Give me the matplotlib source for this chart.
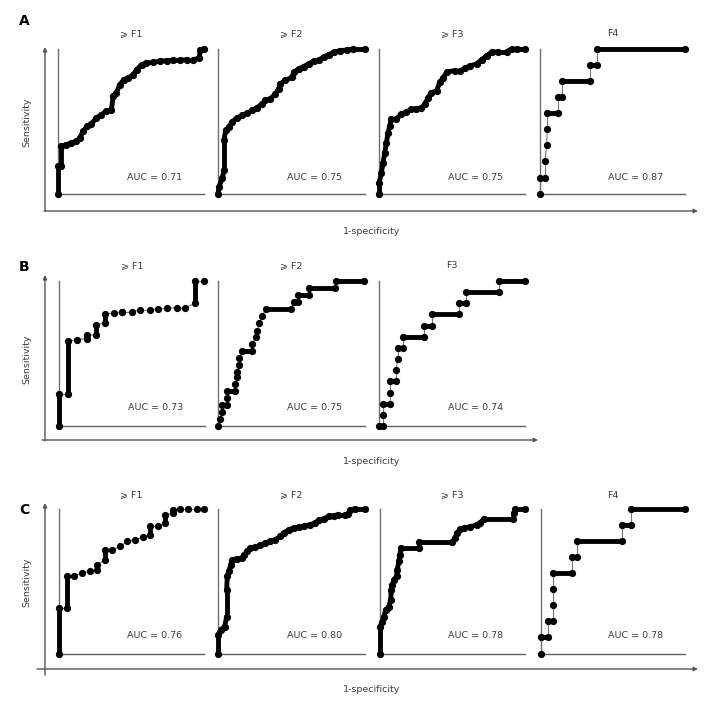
import matplotlib
matplotlib.use('Agg')
import matplotlib.pyplot as plt

# ---------------- data (fraction of panel: 1-specificity, sensitivity) ----------------
a_titles = ['⩾ F1', '⩾ F2', '⩾ F3', 'F4']
a_auc = [0.71, 0.75, 0.75, 0.87]
b_titles = ['⩾ F1', '⩾ F2', 'F3']
b_auc = [0.73, 0.75, 0.74]
c_titles = ['⩾ F1', '⩾ F2', '⩾ F3', 'F4']
c_auc = [0.76, 0.80, 0.78, 0.78]

a1_x = [0, 0, 0.023, 0.023, 0.057, 0.092, 0.126, 0.149, 0.172, 0.199, 0.229, 0.263, 0.297, 0.332, 0.366,
        0.378, 0.40, 0.423, 0.451, 0.481, 0.515, 0.538, 0.572, 0.606, 0.652, 0.698, 0.744, 0.789, 0.835,
        0.881, 0.927, 0.968, 0.973, 1.0]
a1_y = [0, 0.19, 0.19, 0.329, 0.34, 0.352, 0.363, 0.386, 0.432, 0.467, 0.485, 0.524, 0.547, 0.570, 0.582,
        0.674, 0.697, 0.754, 0.789, 0.80, 0.823, 0.857, 0.892, 0.903, 0.908, 0.915, 0.92, 0.922, 0.922,
        0.926, 0.926, 0.938, 0.995, 1.0]
a2_x = [0, 0.007, 0.029, 0.041, 0.041, 0.052, 0.074, 0.097, 0.131, 0.165, 0.199, 0.233, 0.266, 0.30, 0.323,
        0.357, 0.391, 0.413, 0.424, 0.458, 0.503, 0.515, 0.549, 0.582, 0.616, 0.65, 0.684, 0.718, 0.752,
        0.786, 0.831, 0.876, 0.921, 1.0]
a2_y = [0, 0.05, 0.108, 0.165, 0.371, 0.439, 0.462, 0.497, 0.526, 0.542, 0.558, 0.577, 0.595, 0.622, 0.645,
        0.657, 0.691, 0.725, 0.76, 0.783, 0.805, 0.84, 0.863, 0.879, 0.897, 0.915, 0.924, 0.943, 0.961,
        0.977, 0.989, 0.993, 1.0, 1.0]
a3_x = [0, 0, 0.016, 0.027, 0.039, 0.05, 0.062, 0.073, 0.085, 0.119, 0.153, 0.188, 0.222, 0.256, 0.291,
        0.313, 0.336, 0.359, 0.394, 0.416, 0.439, 0.467, 0.519, 0.554, 0.588, 0.622, 0.668, 0.703, 0.737,
        0.771, 0.817, 0.874, 0.908, 0.943, 1.0]
a3_y = [0, 0.074, 0.144, 0.213, 0.282, 0.352, 0.421, 0.468, 0.519, 0.519, 0.549, 0.565, 0.583, 0.588, 0.593,
        0.618, 0.664, 0.699, 0.711, 0.769, 0.803, 0.843, 0.85, 0.85, 0.866, 0.884, 0.896, 0.926, 0.954,
        0.977, 0.981, 0.981, 1.0, 1.0, 1.0]
a4_x = [0, 0, 0.034, 0.034, 0.046, 0.05, 0.05, 0.125, 0.125, 0.15, 0.15, 0.345, 0.345, 0.39, 0.39, 1.0]
a4_y = [0, 0.110, 0.110, 0.225, 0.336, 0.448, 0.559, 0.559, 0.667, 0.667, 0.777, 0.777, 0.892, 0.892, 1.0, 1.0]
a4_dense = 'GTGGGGTGTGTGTGT'

b1_x = [0, 0, 0.064, 0.064, 0.125, 0.189, 0.189, 0.25, 0.25, 0.312, 0.312, 0.376, 0.433, 0.433, 0.50,
        0.556, 0.62, 0.681, 0.743, 0.806, 0.863, 0.932, 0.932, 0.993]
b1_y = [0, 0.22, 0.22, 0.585, 0.596, 0.603, 0.625, 0.63, 0.698, 0.71, 0.773, 0.778, 0.783, 0.789, 0.789,
        0.80, 0.80, 0.807, 0.812, 0.816, 0.816, 0.846, 1.0, 1.0]
b1_dense = 'TGTGGTGTGTGGTGGGGGGGGTG'
b2_x = [0, 0.016, 0.027, 0.027, 0.062, 0.062, 0.062, 0.114, 0.114, 0.13, 0.13, 0.146, 0.146, 0.165, 0.233,
        0.233, 0.256, 0.268, 0.279, 0.302, 0.325, 0.497, 0.519, 0.542, 0.542, 0.622, 0.622, 0.794, 0.805, 0.993]
b2_y = [0, 0.05, 0.096, 0.146, 0.146, 0.192, 0.238, 0.238, 0.291, 0.336, 0.375, 0.421, 0.47, 0.519, 0.519,
        0.565, 0.611, 0.657, 0.709, 0.76, 0.805, 0.805, 0.856, 0.856, 0.902, 0.902, 0.95, 0.95, 1.0, 1.0]
b2_dense = 'GGGTGGTGGGGGGTGGGGGGTGTGTGTGT'
b3_x = [0, 0.03, 0.03, 0.03, 0.075, 0.075, 0.075, 0.115, 0.115, 0.13, 0.13, 0.165, 0.165, 0.31, 0.31,
        0.36, 0.36, 0.55, 0.55, 0.595, 0.595, 0.82, 0.82, 1.0]
b3_y = [0, 0, 0.076, 0.155, 0.155, 0.231, 0.307, 0.307, 0.386, 0.462, 0.538, 0.538, 0.617, 0.617, 0.693,
        0.693, 0.774, 0.774, 0.848, 0.848, 0.924, 0.924, 1.0, 1.0]
b3_dense = 'TGGTGGTGGGTGTGTGTGTGTGT'

c1_x = [0, 0, 0.057, 0.057, 0.103, 0.16, 0.213, 0.263, 0.263, 0.32, 0.32, 0.366, 0.423, 0.469, 0.526,
        0.579, 0.629, 0.629, 0.686, 0.732, 0.732, 0.785, 0.785, 0.835, 0.892, 0.95, 1.0]
c1_y = [0, 0.316, 0.316, 0.535, 0.539, 0.558, 0.569, 0.581, 0.615, 0.65, 0.719, 0.719, 0.742, 0.776, 0.788,
        0.806, 0.823, 0.88, 0.88, 0.903, 0.961, 0.972, 0.995, 1.0, 1.0, 1.0, 1.0]
c1_dense = 'TGTGGGGTGTGGGGGGTGGTGGGGGG'
c2_x = [0, 0, 0.018, 0.045, 0.059, 0.059, 0.063, 0.074, 0.086, 0.097, 0.131, 0.165, 0.176, 0.199, 0.221,
        0.255, 0.289, 0.323, 0.357, 0.391, 0.424, 0.447, 0.481, 0.515, 0.549, 0.582, 0.628, 0.661, 0.684,
        0.718, 0.752, 0.786, 0.819, 0.865, 0.887, 0.898, 0.932, 1.0]
c2_y = [0, 0.131, 0.166, 0.189, 0.258, 0.442, 0.535, 0.569, 0.615, 0.65, 0.657, 0.661, 0.684, 0.707, 0.73,
        0.737, 0.753, 0.765, 0.776, 0.788, 0.811, 0.834, 0.857, 0.869, 0.876, 0.88, 0.892, 0.903, 0.922,
        0.931, 0.949, 0.954, 0.961, 0.961, 0.968, 0.995, 1.0, 1.0]
c3_x = [0, 0, 0.016, 0.027, 0.039, 0.062, 0.073, 0.078, 0.085, 0.096, 0.114, 0.119, 0.13, 0.137, 0.146,
        0.268, 0.268, 0.497, 0.519, 0.531, 0.554, 0.577, 0.622, 0.668, 0.691, 0.714, 0.92, 0.924, 0.931, 1.0]
c3_y = [0, 0.189, 0.224, 0.258, 0.304, 0.327, 0.373, 0.442, 0.477, 0.512, 0.535, 0.581, 0.638, 0.684, 0.73,
        0.73, 0.77, 0.77, 0.80, 0.834, 0.862, 0.869, 0.876, 0.892, 0.903, 0.931, 0.931, 0.972, 1.0, 1.0]
c4_x = [0, 0, 0.046, 0.046, 0.08, 0.08, 0.08, 0.08, 0.218, 0.218, 0.253, 0.253, 0.563, 0.563, 0.625, 0.625, 1.0]
c4_y = [0, 0.115, 0.115, 0.226, 0.226, 0.337, 0.45, 0.561, 0.561, 0.67, 0.67, 0.781, 0.781, 0.891, 0.891, 1.0, 1.0]
c4_dense = 'GTGTGGGTGTGTGTGT'

# ---------------- layout (pixels) ----------------
W, H = 724, 704
rows = [
    dict(letter='A', titles=a_titles, auc=a_auc, top=49, bottom=194,
         spans=[(58, 204), (218, 365), (379, 525), (540, 685)],
         curves=[(a1_x, a1_y, None), (a2_x, a2_y, None), (a3_x, a3_y, None), (a4_x, a4_y, a4_dense)],
         vline=(45, 211, 47), hline=(44, 698, 211), letter_y=21, title_y=34, auc_y=177,
         sens_y=122, spec_y=232, spec_x=372),
    dict(letter='B', titles=b_titles, auc=b_auc, top=281, bottom=426,
         spans=[(59, 205), (218, 365), (379, 525)],
         curves=[(b1_x, b1_y, b1_dense), (b2_x, b2_y, b2_dense), (b3_x, b3_y, b3_dense)],
         vline=(45, 441, 275), hline=(42, 538, 440), letter_y=267, title_y=266, auc_y=408,
         sens_y=359, spec_y=461, spec_x=372),
    dict(letter='C', titles=c_titles, auc=c_auc, top=509, bottom=654,
         spans=[(59, 204), (218, 365), (380, 525), (541, 685)],
         curves=[(c1_x, c1_y, c1_dense), (c2_x, c2_y, None), (c3_x, c3_y, None), (c4_x, c4_y, c4_dense)],
         vline=(45, 675, 503), hline=(37, 698, 669), letter_y=510, title_y=495, auc_y=636,
         sens_y=582, spec_y=689, spec_x=372),
]

TXT = '#3a3a3a'
FS = 6.8
fig = plt.figure(figsize=(W / 100, H / 100), dpi=100)
over = fig.add_axes([0, 0, 1, 1])
over.set_xlim(0, W)
over.set_ylim(H, 0)
over.axis('off')

arrow = dict(arrowstyle='-|>', color='#555555', lw=1.0, mutation_scale=6, shrinkA=0, shrinkB=0)

for row in rows:
    vx, vb, vt = row['vline']
    over.annotate('', xy=(vx, vt), xytext=(vx, vb), arrowprops=arrow)
    hx0, hx1, hy = row['hline']
    over.annotate('', xy=(hx1, hy), xytext=(hx0, hy), arrowprops=arrow)
    over.text(24, row['letter_y'], row['letter'], fontsize=10, fontweight='bold',
              ha='center', va='center', color='black')
    over.text(27, row['sens_y'], 'Sensitivity', rotation=90, fontsize=FS, color=TXT,
              ha='center', va='center')
    over.text(row['spec_x'], row['spec_y'], '1-specificity', fontsize=FS, color=TXT,
              ha='center', va='center')
    top, bot = row['top'], row['bottom']
    for (l, r), title, auc, (xs, ys, dense) in zip(row['spans'], row['titles'], row['auc'], row['curves']):
        ax = fig.add_axes([l / W, 1 - bot / H, (r - l) / W, (bot - top) / H])
        ax.set_facecolor('none')
        ax.set_xlim(0, 1)
        ax.set_ylim(0, 1)
        ax.set_xticks([])
        ax.set_yticks([])
        for s in ('top', 'right'):
            ax.spines[s].set_visible(False)
        ax.spines['left'].set_color('#707070')
        ax.spines['bottom'].set_color('#606060')
        ax.spines['left'].set_linewidth(1.0)
        ax.spines['bottom'].set_linewidth(1.0)
        n = len(xs)
        flags = dense if dense is not None else 'T' * (n - 1)
        for i in range(n - 1):
            if flags[i] == 'T':
                ax.plot(xs[i:i + 2], ys[i:i + 2], color='black', lw=3.5,
                        solid_capstyle='round', clip_on=False, zorder=3)
            else:
                ax.plot(xs[i:i + 2], ys[i:i + 2], color='#777777', lw=0.8,
                        clip_on=False, zorder=2)
        ax.plot(xs, ys, 'o', ms=4.2, color='black', mec='black', clip_on=False, zorder=4)
        ax.text(0.66, (bot - row['auc_y']) / (bot - top), f'AUC = {auc:.2f}', transform=ax.transAxes,
                fontsize=FS, color=TXT, ha='center', va='center')
        over.text((l + r) / 2, row['title_y'], title, fontsize=FS, color=TXT,
                  ha='center', va='center')

fig.savefig('out.png', dpi=100)
